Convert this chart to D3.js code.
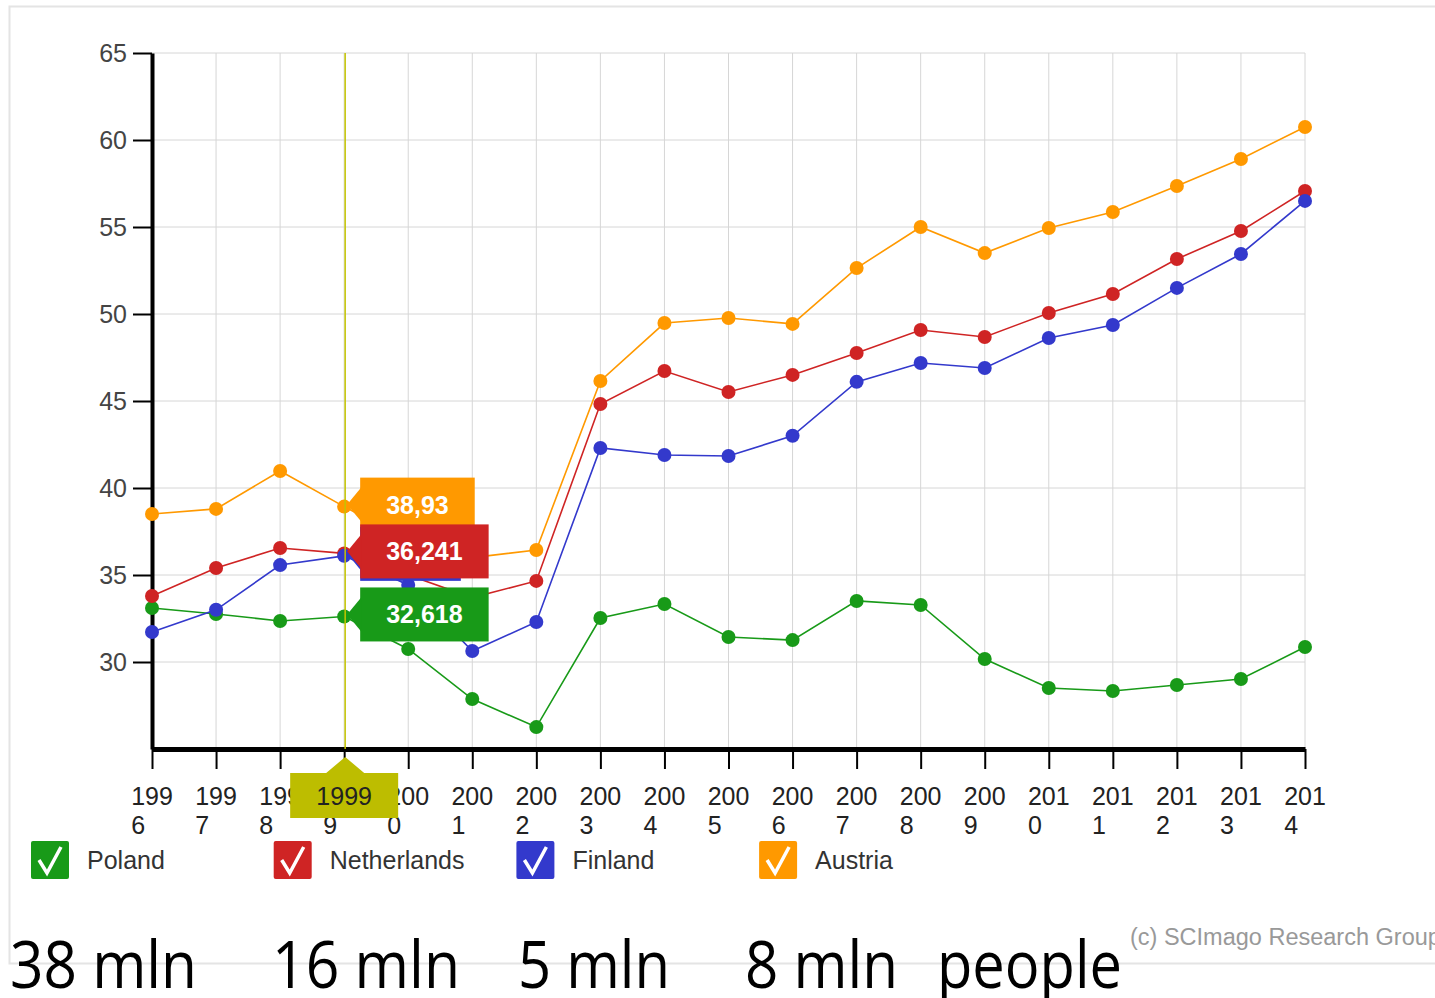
<!DOCTYPE html>
<html>
<head>
<meta charset="utf-8">
<script src="https://cdn.jsdelivr.net/npm/d3@7"></script>
<style>
  html, body { margin: 0; padding: 0; background: #fff; overflow: hidden; }
  svg { display: block; font-family: "Liberation Sans", Arial, sans-serif; }
</style>
</head>
<body>
<div id="chart"></div>
<script>
// chart data
var years = [1996, 1997, 1998, 1999, 2000, 2001, 2002, 2003, 2004, 2005, 2006, 2007, 2008, 2009, 2010, 2011, 2012, 2013, 2014];
var poland = [33.1, 32.76, 32.36, 32.618, 30.75, 27.87, 26.26, 32.53, 33.33, 31.44, 31.26, 33.51, 33.28, 30.17, 28.51, 28.33, 28.68, 29.02, 30.86];
var netherlands = [33.79, 35.4, 36.55, 36.241, 35.0, 33.7, 34.66, 44.83, 46.72, 45.52, 46.5, 47.76, 49.08, 48.68, 50.06, 51.15, 53.16, 54.77, 57.07];
var finland = [31.72, 33.0, 35.57, 36.1, 34.43, 30.63, 32.3, 42.3, 41.9, 41.84, 43.0, 46.1, 47.18, 46.9, 48.62, 49.37, 51.5, 53.45, 56.5];
var austria = [38.51, 38.8, 40.98, 38.93, 37.0, 36.0, 36.44, 46.15, 49.48, 49.77, 49.43, 52.64, 55.0, 53.5, 54.94, 55.86, 57.36, 58.91, 60.75];
var countries = ["Poland", "Netherlands", "Finland", "Austria"];
var colors = ["#189a18", "#cf2424", "#3339cc", "#ff9900"];
var tooltipLabels = ["32,618", "36,241", "36,1", "38,93"];
var yTicks = [30, 35, 40, 45, 50, 55, 60, 65];
var selectedYear = 1999;
var populations = ["38 mln", "16 mln", "5 mln", "8 mln", "people"];

var width = 1435, height = 998;
var svg = d3.select("#chart").append("svg")
    .attr("width", width)
    .attr("height", height);

// outer frame
svg.append("path")
    .attr("d", "M1440,6.5 H9.5 V963.5 H1440")
    .attr("fill", "none")
    .attr("stroke", "#e4e4e4")
    .attr("stroke-width", 2);

var x = d3.scaleLinear().domain([1996, 2014]).range([152, 1305]);
var y = d3.scaleLinear().domain([25, 65]).range([749, 53]);

// grid
var grid = svg.append("g").attr("class", "grid");
grid.selectAll("line.v").data(years).enter().append("line")
    .attr("x1", function (d) { return x(d); })
    .attr("x2", function (d) { return x(d); })
    .attr("y1", y(65)).attr("y2", y(25))
    .attr("stroke", "#d6d6d6").attr("stroke-width", 1);
grid.selectAll("line.h").data(yTicks).enter().append("line")
    .attr("x1", x(1996)).attr("x2", x(2014))
    .attr("y1", function (d) { return y(d); })
    .attr("y2", function (d) { return y(d); })
    .attr("stroke", "#d6d6d6").attr("stroke-width", 1);

// y axis
var yAxis = svg.append("g")
    .attr("transform", "translate(" + x(1996) + ",0)")
    .call(d3.axisLeft(y).tickValues(yTicks).tickSize(19).tickSizeOuter(0).tickPadding(6));
yAxis.select(".domain").attr("stroke", "#000").attr("stroke-width", 4);
yAxis.selectAll(".tick line").attr("stroke", "#000").attr("stroke-width", 2);
yAxis.selectAll(".tick text")
    .attr("font-size", 25)
    .attr("font-family", "Liberation Sans, Arial, sans-serif")
    .attr("fill", "#444")
    .attr("dy", "0.35em");

// x axis
var xAxis = svg.append("g")
    .attr("transform", "translate(0," + y(25) + ")")
    .call(d3.axisBottom(x).tickValues(years).tickSize(20).tickSizeOuter(0).tickFormat(""));
xAxis.select(".domain").attr("stroke", "#000").attr("stroke-width", 5);
xAxis.selectAll(".tick line").attr("stroke", "#000").attr("stroke-width", 2);

// year labels broken over two lines
var xLabels = svg.append("g").attr("font-size", 25).attr("fill", "#222");
years.forEach(function (yr) {
    var s = String(yr);
    var t = xLabels.append("text").attr("text-anchor", "start");
    var a = t.append("tspan").attr("y", 805).text(s.slice(0, 3));
    var b = t.append("tspan").attr("y", 834).text(s.slice(3));
    var w = a.node().getComputedTextLength();
    a.attr("x", x(yr) - w / 2);
    b.attr("x", x(yr) - w / 2);
});

// series
var series = [poland, netherlands, finland, austria];
var line = d3.line()
    .x(function (d, i) { return x(years[i]); })
    .y(function (d) { return y(d); });
series.forEach(function (vals, k) {
    var g = svg.append("g");
    g.append("path")
        .datum(vals)
        .attr("d", line)
        .attr("fill", "none")
        .attr("stroke", colors[k])
        .attr("stroke-width", 1.6);
    g.selectAll("circle").data(vals).enter().append("circle")
        .attr("cx", function (d, i) { return x(years[i]); })
        .attr("cy", function (d) { return y(d); })
        .attr("r", 7)
        .attr("fill", colors[k]);
});

// crosshair
var cx = x(selectedYear) + 1;
svg.append("line")
    .attr("x1", cx).attr("x2", cx)
    .attr("y1", y(65)).attr("y2", y(25))
    .attr("stroke", "#c4c400").attr("stroke-width", 1.5);

// value flags at the crosshair
var idx = years.indexOf(selectedYear);
var flags = svg.append("g").attr("font-size", 25).attr("font-weight", "bold");
[3, 2, 1, 0].forEach(function (k) {
    var v = series[k][idx];
    var yc = y(v) - 2;
    var g = flags.append("g");
    var txt = g.append("text")
        .attr("fill", "#fff")
        .attr("text-anchor", "middle")
        .attr("dy", "0.36em")
        .text(tooltipLabels[k]);
    var w = txt.node().getComputedTextLength() + 52;
    var bx = cx + 15;
    g.insert("rect", "text")
        .attr("x", bx).attr("y", yc - 27)
        .attr("width", w).attr("height", 54)
        .attr("fill", colors[k]);
    g.insert("path", "text")
        .attr("d", "M" + (cx + 2) + "," + yc + " L" + (bx + 1) + "," + (yc - 17) + " L" + (bx + 1) + "," + (yc + 17) + " Z")
        .attr("fill", colors[k]);
    txt.attr("x", bx + w / 2).attr("y", yc);
});

// year flag on the x axis
var xf = svg.append("g");
xf.append("path")
    .attr("d", "M" + cx + ",757 L" + (cx + 19) + ",773 L" + (cx - 19) + ",773 Z")
    .attr("fill", "#bdbd00");
xf.append("rect")
    .attr("x", cx - 55).attr("y", 773)
    .attr("width", 108).attr("height", 45)
    .attr("fill", "#bdbd00");
xf.append("text")
    .attr("x", cx - 1).attr("y", 805)
    .attr("text-anchor", "middle")
    .attr("font-size", 25)
    .attr("fill", "#222")
    .text(String(selectedYear));

// legend
var legend = svg.append("g");
countries.forEach(function (name, k) {
    var lx = 31 + k * 242.7;
    var g = legend.append("g").attr("transform", "translate(" + lx + ",841)");
    g.append("rect")
        .attr("width", 38).attr("height", 38).attr("rx", 2)
        .attr("fill", colors[k]);
    g.append("path")
        .attr("d", "M8,19 L16,32 L30,6")
        .attr("fill", "none")
        .attr("stroke", "#fff")
        .attr("stroke-width", 3.5)
        .attr("stroke-linejoin", "miter");
    g.append("text")
        .attr("x", 56).attr("y", 28)
        .attr("font-size", 25)
        .attr("fill", "#333")
        .text(name);
});

// copyright
svg.append("text")
    .attr("x", 1130).attr("y", 945)
    .attr("font-size", 23.5)
    .attr("fill", "#999")
    .text("(c) SCImago Research Group");

// population captions
var popX = [10, 272, 518, 745, 937];
var popW = [187, 188, 152, 153, 185];
var pop = svg.append("g")
    .attr("font-family", "Open Sans, DejaVu Sans, sans-serif")
    .attr("font-size", 66)
    .attr("fill", "#000");
populations.forEach(function (s, i) {
    pop.append("text")
        .attr("x", popX[i]).attr("y", 988)
        .attr("textLength", popW[i])
        .attr("lengthAdjust", "spacingAndGlyphs")
        .text(s);
});
</script>
</body>
</html>
